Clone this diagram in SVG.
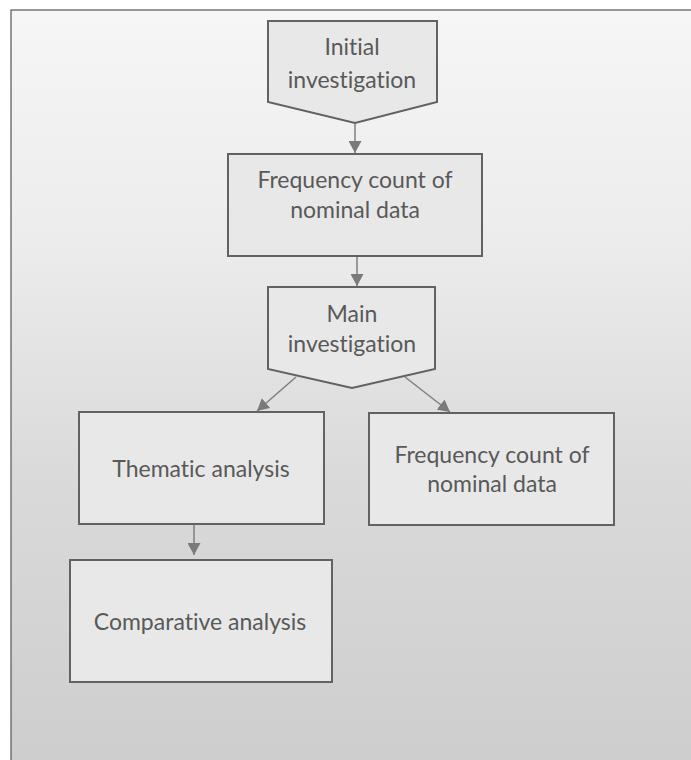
<svg xmlns="http://www.w3.org/2000/svg" width="691" height="760" viewBox="0 0 691 760">
<defs>
<linearGradient id="bg" x1="0" y1="0" x2="0" y2="1">
<stop offset="0" stop-color="#f6f6f6"/>
<stop offset="0.3" stop-color="#ececec"/>
<stop offset="0.6" stop-color="#dadada"/>
<stop offset="1" stop-color="#cdcdcd"/>
</linearGradient>
<marker id="ah" viewBox="0 0 10 10" refX="10" refY="5" markerWidth="12" markerHeight="13" markerUnits="userSpaceOnUse" orient="auto" preserveAspectRatio="none">
<path d="M0,0 L10,5 L0,10 z" fill="#7a7a7a"/>
</marker>
<style>
.n{fill:#e8e8e8;stroke:#626262;stroke-width:2}
.t{font-family:Lato,"Open Sans",sans-serif;font-size:23px;fill:#595959;text-anchor:middle;font-variant-ligatures:none}
.c{stroke:#7f7f7f;stroke-width:1.5;fill:none;marker-end:url(#ah)}
</style>
</defs>
<rect x="11" y="10" width="700" height="770" fill="url(#bg)" stroke="#555" stroke-width="1.2"/>
<g id="connectors">
<line class="c" x1="355" y1="123" x2="355" y2="153"/>
<line class="c" x1="357" y1="256" x2="357" y2="286"/>
<line class="c" x1="296" y1="377" x2="257" y2="411"/>
<line class="c" x1="405" y1="377" x2="450" y2="412"/>
<line class="c" x1="194" y1="524" x2="194" y2="555"/>
</g>
<g id="initial">
<path class="n" d="M268,21 H437 V102 L355,123 L268,102 Z"/>
<text class="t" x="352" y="55">Initial</text>
<text class="t" x="352" y="88">investigation</text>
</g>
<g id="freq1">
<rect class="n" x="228" y="154" width="254" height="102"/>
<text class="t" x="355" y="188">Frequency count of</text>
<text class="t" x="355" y="218">nominal data</text>
</g>
<g id="main">
<path class="n" d="M268,287 H435 V369 L352,388 L268,369 Z"/>
<text class="t" x="352" y="322">Main</text>
<text class="t" x="352" y="352">investigation</text>
</g>
<g id="thematic">
<rect class="n" x="79" y="412" width="245" height="112"/>
<text class="t" x="201" y="477">Thematic analysis</text>
</g>
<g id="freq2">
<rect class="n" x="369" y="413" width="245" height="112"/>
<text class="t" x="492" y="463">Frequency count of</text>
<text class="t" x="492" y="492">nominal data</text>
</g>
<g id="comparative">
<rect class="n" x="70" y="560" width="262" height="122"/>
<text class="t" x="200" y="630">Comparative analysis</text>
</g>
</svg>
